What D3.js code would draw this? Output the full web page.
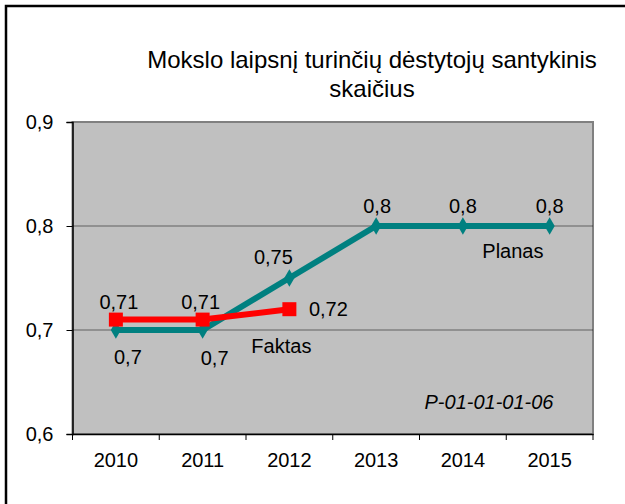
<!DOCTYPE html>
<html>
<head>
<meta charset="utf-8">
<script src="https://cdn.jsdelivr.net/npm/d3@7"></script>
<style>
	body { margin: 0; background: #fff; }
	svg text { font-family: "Liberation Sans", Arial, sans-serif; fill: #000; }
</style>
</head>
<body>
<svg id="chart" width="625" height="504"></svg>
<script>
// chart data
const years = ['2010', '2011', '2012', '2013', '2014', '2015']
const planas = [0.7, 0.7, 0.75, 0.8, 0.8, 0.8]
const faktas = [0.71, 0.71, 0.72]
const yTicks = [0.6, 0.7, 0.8, 0.9]
const gridValues = [0.7, 0.8]
const titleLines = ['Mokslo laipsnį turinčių dėstytojų santykinis', 'skaičius']

const locale = d3.formatLocale({ decimal: ',', thousands: ' ', grouping: [3], currency: ['', ''] })
const fmt = (v) => locale.format('')(v)

const svg = d3.select('#chart')
const plot = { left: 72.5, top: 122, right: 593, bottom: 434 }

// outer frame (extends past the picture on right and bottom)
svg.append('path')
	.attr('d', 'M6,510 L6,6 L630,6')
	.attr('fill', 'none')
	.attr('stroke', '#000')
	.attr('stroke-width', 2.5)

const x = d3.scaleBand().domain(years).range([plot.left, plot.right]).padding(0)
const y = d3.scaleLinear().domain([0.6, 0.9]).range([plot.bottom, plot.top])
const cx = (d) => x(d) + x.bandwidth() / 2

// plot background
svg.append('rect')
	.attr('x', plot.left).attr('y', plot.top)
	.attr('width', plot.right - plot.left).attr('height', plot.bottom - plot.top)
	.attr('fill', '#c0c0c0')
	.attr('stroke', '#808080')
	.attr('stroke-width', 2)

// gridlines
svg.append('g').selectAll('line')
	.data(gridValues)
	.join('line')
		.attr('x1', plot.left).attr('x2', plot.right)
		.attr('y1', (d) => y(d)).attr('y2', (d) => y(d))
		.attr('stroke', '#000')
		.attr('stroke-width', 1)
		.attr('stroke-dasharray', '1,1')

// axes
const yAxis = svg.append('g')
	.attr('transform', `translate(${plot.left},0)`)
	.call(d3.axisLeft(y).tickValues(yTicks).tickFormat(fmt).tickSize(6).tickPadding(13))
yAxis.select('.domain').attr('stroke', '#000').attr('stroke-width', 1.5)
yAxis.selectAll('.tick line').attr('stroke', '#000')
yAxis.selectAll('text').style('font-size', '20px')

const xAxis = svg.append('g')
	.attr('transform', `translate(0,${plot.bottom})`)
	.call(d3.axisBottom(x).tickSize(0).tickPadding(19))
xAxis.select('.domain').attr('stroke', '#000').attr('stroke-width', 1.5)
xAxis.selectAll('text').style('font-size', '20px')
xAxis.selectAll('.sep')
	.data(d3.range(years.length + 1))
	.join('line')
		.attr('class', 'sep')
		.attr('x1', (i) => plot.left + i * x.bandwidth())
		.attr('x2', (i) => plot.left + i * x.bandwidth())
		.attr('y1', 0).attr('y2', 6)
		.attr('stroke', '#000')

// Planas line
const planasData = years.map((d, i) => ({ year: d, v: planas[i] }))
const line = d3.line().x((d) => cx(d.year)).y((d) => y(d.v))

svg.append('path')
	.datum(planasData)
	.attr('d', line)
	.attr('fill', 'none')
	.attr('stroke', '#008080')
	.attr('stroke-width', 6)

svg.append('g').selectAll('path')
	.data(planasData)
	.join('path')
		.attr('d', d3.symbol(d3.symbolDiamond, 90))
		.attr('transform', (d) => `translate(${cx(d.year)},${y(d.v)})`)
		.attr('fill', '#008080')

// Faktas line
const faktasData = faktas.map((v, i) => ({ year: years[i], v }))

svg.append('path')
	.datum(faktasData)
	.attr('d', line)
	.attr('fill', 'none')
	.attr('stroke', '#ff0000')
	.attr('stroke-width', 6)

svg.append('g').selectAll('rect')
	.data(faktasData)
	.join('rect')
		.attr('x', (d) => cx(d.year) - 7)
		.attr('y', (d) => y(d.v) - 7)
		.attr('width', 14).attr('height', 14)
		.attr('fill', '#ff0000')

// data labels (offsets from point)
const planasOffsets = [[12, 27], [12, 28], [-16, -21], [1, -20], [0, -20], [0, -20]]
const faktasOffsets = [[3, -18], [-2, -18], [39, 0]]

const labels = svg.append('g').style('font-size', '20px').attr('text-anchor', 'middle')
labels.selectAll('.lp')
	.data(planasData)
	.join('text')
		.attr('class', 'lp')
		.attr('x', (d, i) => cx(d.year) + planasOffsets[i][0])
		.attr('y', (d, i) => y(d.v) + planasOffsets[i][1])
		.attr('dy', '0.35em')
		.text((d) => fmt(d.v))
labels.selectAll('.lf')
	.data(faktasData)
	.join('text')
		.attr('class', 'lf')
		.attr('x', (d, i) => cx(d.year) + faktasOffsets[i][0])
		.attr('y', (d, i) => y(d.v) + faktasOffsets[i][1])
		.attr('dy', '0.35em')
		.text((d) => fmt(d.v))

// series names and code
labels.append('text')
	.attr('x', cx('2012') - 8).attr('y', y(0.7) + 16)
	.attr('dy', '0.35em')
	.text('Faktas')
labels.append('text')
	.attr('x', cx('2014') + 50).attr('y', y(0.8) + 25)
	.attr('dy', '0.35em')
	.text('Planas')
labels.append('text')
	.attr('x', 489).attr('y', 402)
	.attr('dy', '0.35em')
	.style('font-style', 'italic')
	.text('P-01-01-01-06')

// title
svg.append('g')
	.attr('text-anchor', 'middle')
	.style('font-size', '24px')
	.selectAll('text')
	.data(titleLines)
	.join('text')
		.attr('x', 372)
		.attr('y', (d, i) => 60 + i * 29)
		.attr('dy', '0.35em')
		.text((d) => d)
</script>
</body>
</html>
